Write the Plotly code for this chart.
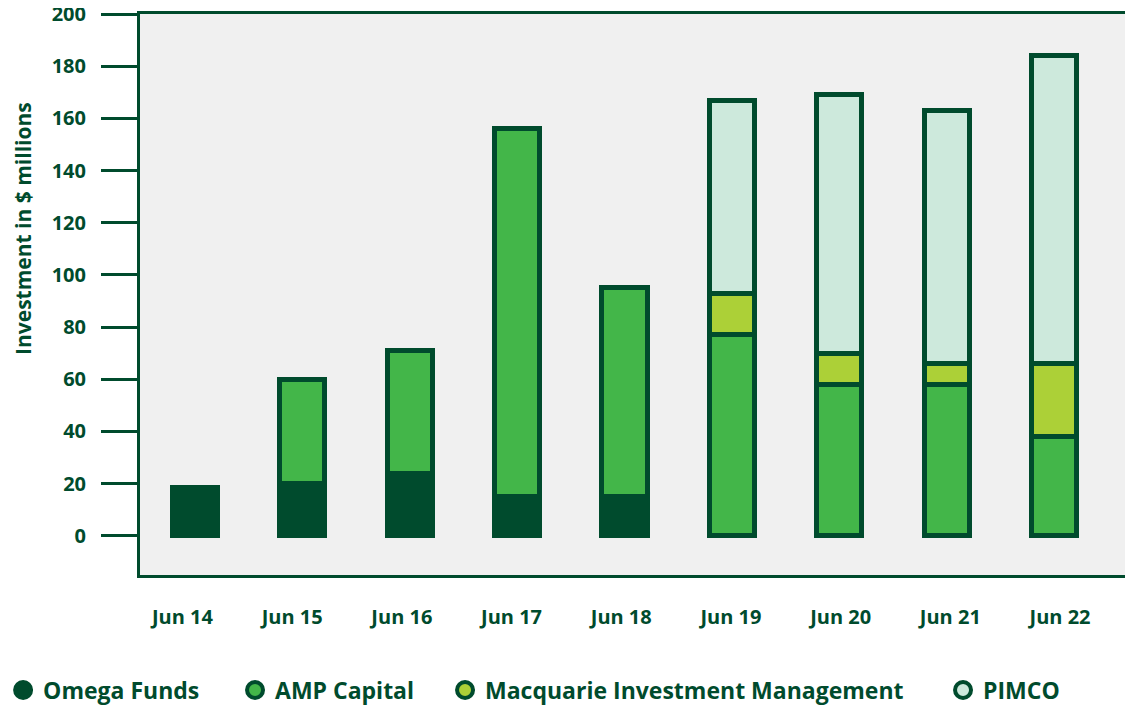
import plotly.graph_objects as go

months = ["Jun 14", "Jun 15", "Jun 16", "Jun 17", "Jun 18", "Jun 19", "Jun 20", "Jun 21", "Jun 22"]
omega = [18.5, 20, 24, 15, 15, 0, 0, 0, 0]
amp = [0, 40, 47, 141, 80, 77, 58, 58, 38]
macquarie = [0, 0, 0, 0, 0, 16, 12, 8, 28]
pimco = [0, 0, 0, 0, 0, 74, 99, 97, 118]

DARK = "#004b2d"
FONT = "Open Sans"

series = [
    ("Omega Funds", omega, DARK),
    ("AMP Capital", amp, "#43b649"),
    ("Macquarie Investment Management", macquarie, "#acd037"),
    ("PIMCO", pimco, "#cde9dc"),
]
# each legend entry sits in its own legend box along the bottom
legend_x = [-0.138, 0.0958, 0.3075, 0.8095]

fig = go.Figure()
for i, (name, vals, col) in enumerate(series):
    # hide empty segments so no stray outline is drawn
    yv = [v if v else None for v in vals]
    fig.add_trace(go.Bar(
        x=months, y=yv, name=name, width=0.42,
        marker=dict(color=col, line=dict(color=DARK, width=5)),
        showlegend=False,
    ))
    # legend entry as a round marker
    lg = "legend" if i == 0 else f"legend{i + 1}"
    fig.add_trace(go.Scatter(
        x=[None], y=[None], mode="markers", name=name, legend=lg,
        marker=dict(symbol="circle", size=16, color=col, line=dict(color=DARK, width=4)),
    ))
    fig.update_layout({lg: dict(
        orientation="h", x=legend_x[i], xanchor="left", y=-0.205, yanchor="middle",
        font=dict(size=23), itemwidth=30, bgcolor="rgba(0,0,0,0)",
    )})

# empty trace so the label axis gets drawn
fig.add_trace(go.Scatter(x=[None], y=[None], xaxis="x2", showlegend=False, hoverinfo="skip"))

fig.update_layout(
    width=1133, height=709,
    barmode="stack",
    paper_bgcolor="white",
    plot_bgcolor="#f0f0f0",
    margin=dict(l=132, r=9, t=6, b=142, autoexpand=False),
    font=dict(family=FONT, color=DARK, size=19, weight="bold"),
    xaxis=dict(
        type="category", range=[-0.512, 8.726],
        showticklabels=False, ticks="", showgrid=False,
        showline=True, linecolor=DARK, linewidth=3, mirror=True,
    ),
    xaxis2=dict(
        overlaying="x", anchor="y", side="bottom",
        range=[-0.387, 8.656], tickvals=list(range(len(months))), ticktext=months,
        showgrid=False, showline=False, zeroline=False, ticks="",
        ticklabelstandoff=28, tickfont=dict(size=20),
    ),
    yaxis=dict(
        range=[-15, 200], tickvals=list(range(0, 201, 20)),
        showgrid=False, zeroline=False,
        ticks="outside", ticklen=36, tickwidth=3, tickcolor=DARK,
        ticklabelstandoff=11, tickfont=dict(size=20), ticklabeloverflow="allow",
        showline=True, linecolor=DARK, linewidth=3, mirror=True,
    ),
    annotations=[dict(
        text="Investment in $ millions", textangle=-90,
        xref="paper", yref="paper", x=-0.118, y=0.6185,
        xanchor="center", yanchor="middle", showarrow=False,
        font=dict(size=21),
    )],
)

fig.write_html("out.html")
